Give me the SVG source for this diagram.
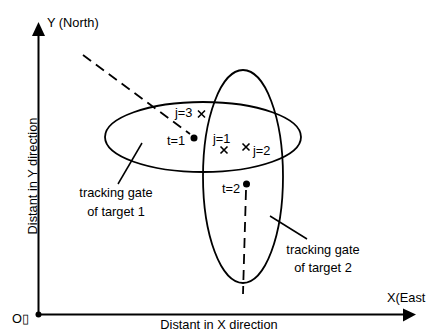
<svg xmlns="http://www.w3.org/2000/svg" width="426" height="331" viewBox="0 0 426 331">
<style>
text{font-family:"Liberation Sans",Arial,sans-serif;font-size:12.8px;fill:#000}
.ax{stroke:#000;stroke-width:2;fill:none}
.el{stroke:#000;stroke-width:1.8;fill:none}
.ds{stroke:#000;stroke-width:1.8;fill:none;stroke-dasharray:10,6}
.ld{stroke:#000;stroke-width:1.5}
.cx{stroke:#000;stroke-width:1.6}
</style>
<rect width="426" height="331" fill="#fff"/>
<g id="axes">
<line class="ax" x1="38.5" y1="314.5" x2="38.5" y2="34"/>
<polygon points="38.5,22 32,36 45,36" fill="#000"/>
<line class="ax" x1="38.5" y1="314.5" x2="404" y2="314.5"/>
<polygon points="416,314.5 403,308.5 403,321.5" fill="#000"/>
<circle cx="38.5" cy="314.5" r="3" fill="#000"/>
<text x="47" y="27">Y (North)</text>
<text x="387" y="302">X(East</text>
<text x="12" y="323">O▯</text>
<text x="219" y="329" text-anchor="middle">Distant in X direction</text>
<text transform="translate(37,176) rotate(-90)" text-anchor="middle">Distant in Y direction</text>
</g>
<g id="gate1">
<ellipse class="el" cx="203" cy="137" rx="98" ry="35"/>
<text x="116" y="197" text-anchor="middle">tracking gate</text>
<text x="116" y="216" text-anchor="middle">of target 1</text>
</g>
<g id="gate2">
<ellipse class="el" cx="243" cy="176.5" rx="40" ry="106.5"/>
<text x="323" y="254" text-anchor="middle">tracking gate</text>
<text x="323" y="272" text-anchor="middle">of target 2</text>
</g>
<g id="target1">
<circle cx="194" cy="138" r="3.5" fill="#000"/>
<text x="167" y="145">t=1</text>
</g>
<g id="target2">
<circle cx="246.5" cy="184" r="3.5" fill="#000"/>
<text x="222" y="193">t=2</text>
</g>
<g id="meas3">
<path class="cx" d="M198,110.5l7,7M205,110.5l-7,7"/>
<text x="175" y="117">j=3</text>
</g>
<g id="meas1">
<path class="cx" d="M220.5,146.5l7,7M227.5,146.5l-7,7"/>
<text x="213" y="143">j=1</text>
</g>
<g id="meas2">
<path class="cx" d="M242.5,143.5l7,7M249.5,143.5l-7,7"/>
<text x="253" y="155">j=2</text>
</g>
<g id="connectors">
<line class="ds" x1="83" y1="55" x2="190" y2="134"/>
<line class="ds" x1="246" y1="190" x2="243" y2="294"/>
<line class="ld" x1="142" y1="143" x2="118" y2="184"/>
<line class="ld" x1="270" y1="216" x2="307" y2="239"/>
</g>
</svg>
